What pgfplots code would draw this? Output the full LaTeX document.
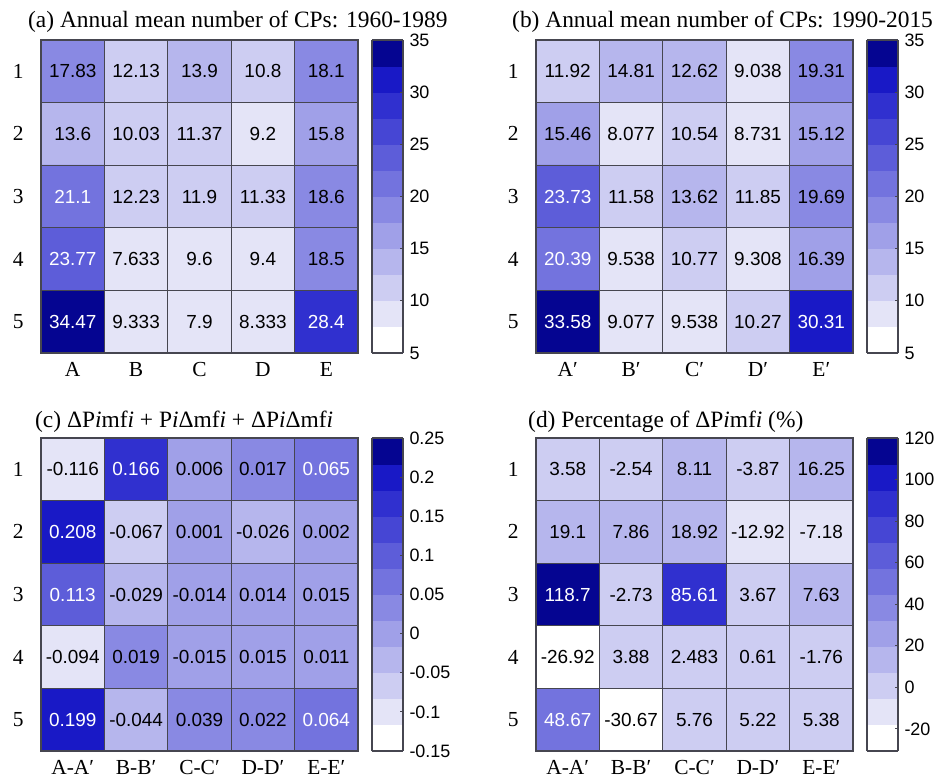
\documentclass[border=0pt]{standalone}
\usepackage{pgfplots}
\pgfplotsset{compat=1.18}
\usepackage{pgfplotstable}
\usepackage{fontspec}
\setmainfont{Liberation Serif}
\setsansfont{Liberation Sans}
\definecolor{gridgray}{RGB}{70,70,80}

\pgfplotsset{
  colormap={cpblue}{rgb255=(255,255,255) rgb255=(228,228,247) rgb255=(205,205,242)
    rgb255=(182,182,237) rgb255=(160,160,232) rgb255=(137,137,227) rgb255=(115,115,222)
    rgb255=(93,93,217) rgb255=(70,70,212) rgb255=(48,48,207) rgb255=(25,25,198) rgb255=(5,5,145)},
  colorbar shift/.style={xshift=14bp},
  heat/.style={
    scale only axis, width=317bp, height=313bp, anchor=south west,
    xmin=-0.5, xmax=4.5, ymin=0.5, ymax=5.5, y dir=reverse,
    xtick={0,...,4}, ytick={1,...,5}, yticklabels={1,2,3,4,5},
    major tick length=0pt,
    minor xtick={0.5,1.5,2.5,3.5}, minor ytick={1.5,2.5,3.5,4.5},
    minor tick length=0pt,
    minor grid style={draw=gridgray, line width=1.1bp},
    xminorgrids, yminorgrids,
    axis line style={draw=gridgray, line width=1.1bp},
    axis on top,
    colormap name=cpblue,
    colormap access=piecewise constant,
    ticklabel style={font=\fontsize{21.5}{21.5}\selectfont},
    yticklabel style={xshift=-14bp},
    xticklabel style={yshift=-6bp},
    /pgf/number format/assume math mode=true,
    colorbar,
  },
  cbar/.style={
    at={(parent axis.north east)}, anchor=north west,
    width=31bp, y dir=normal,
    xminorgrids=false, yminorgrids=false, minor xtick={}, minor ytick={},
    axis line style={draw=gridgray, line width=1.1bp},
    ytick pos=right, tick align=inside, major tick length=3bp,
    tick style={draw=gridgray, line width=0.8bp},
    yticklabel style={font=\sffamily\fontsize{18}{18}\selectfont, xshift=3bp},
    scaled y ticks=false,
  },
  valtext/.style={only marks, mark=none, point meta=explicit symbolic,
    nodes near coords={\pgfmathparse{(\pgfplotspointmeta)>(\thr)}%
      \ifdim\pgfmathresult pt>0.5pt\color{white}\fi\pgfplotspointmeta},
    nodes near coords style={anchor=center, inner sep=0pt,
      font=\sffamily\fontsize{19}{19}\selectfont}},
}
\tikzset{ptitle/.style={anchor=base west, inner sep=0pt, font=\fontsize{23.5}{25}\selectfont}}

\pgfplotstableread{
x y c
0 1 17.83
1 1 12.13
2 1 13.9
3 1 10.8
4 1 18.1
0 2 13.6
1 2 10.03
2 2 11.37
3 2 9.2
4 2 15.8
0 3 21.1
1 3 12.23
2 3 11.9
3 3 11.33
4 3 18.6
0 4 23.77
1 4 7.633
2 4 9.6
3 4 9.4
4 4 18.5
0 5 34.47
1 5 9.333
2 5 7.9
3 5 8.333
4 5 28.4
}\tabA

\pgfplotstableread{
x y c
0 1 11.92
1 1 14.81
2 1 12.62
3 1 9.038
4 1 19.31
0 2 15.46
1 2 8.077
2 2 10.54
3 2 8.731
4 2 15.12
0 3 23.73
1 3 11.58
2 3 13.62
3 3 11.85
4 3 19.69
0 4 20.39
1 4 9.538
2 4 10.77
3 4 9.308
4 4 16.39
0 5 33.58
1 5 9.077
2 5 9.538
3 5 10.27
4 5 30.31
}\tabB

\pgfplotstableread{
x y c
0 1 -0.116
1 1 0.166
2 1 0.006
3 1 0.017
4 1 0.065
0 2 0.208
1 2 -0.067
2 2 0.001
3 2 -0.026
4 2 0.002
0 3 0.113
1 3 -0.029
2 3 -0.014
3 3 0.014
4 3 0.015
0 4 -0.094
1 4 0.019
2 4 -0.015
3 4 0.015
4 4 0.011
0 5 0.199
1 5 -0.044
2 5 0.039
3 5 0.022
4 5 0.064
}\tabC

\pgfplotstableread{
x y c
0 1 3.58
1 1 -2.54
2 1 8.11
3 1 -3.87
4 1 16.25
0 2 19.1
1 2 7.86
2 2 18.92
3 2 -12.92
4 2 -7.18
0 3 118.7
1 3 -2.73
2 3 85.61
3 3 3.67
4 3 7.63
0 4 -26.92
1 4 3.88
2 4 2.483
3 4 0.61
4 4 -1.76
0 5 48.67
1 5 -30.67
2 5 5.76
3 5 5.22
4 5 5.38
}\tabD

\begin{document}
\begin{tikzpicture}
\useasboundingbox (0,0) rectangle (941bp,778bp);

% (a)
\def\thr{20}
\begin{axis}[heat, name=axA, at={(41bp,425bp)},
  xticklabels={A,B,C,D,E},
  point meta min=5, point meta max=35,
  colorbar style={cbar, ytick={5,10,...,35}, yticklabels={5,10,15,20,25,30,35}}]
\addplot[matrix plot*, mesh/cols=5, point meta=explicit] table[x=x,y=y,meta=c]{\tabA};
\addplot[valtext] table[x=x,y=y,meta=c]{\tabA};
\end{axis}

% (b)
\def\thr{20}
\begin{axis}[heat, name=axB, at={(536bp,425bp)},
  xticklabels={A′,B′,C′,D′,E′},
  point meta min=5, point meta max=35,
  colorbar style={cbar, ytick={5,10,...,35}, yticklabels={5,10,15,20,25,30,35}}]
\addplot[matrix plot*, mesh/cols=5, point meta=explicit] table[x=x,y=y,meta=c]{\tabB};
\addplot[valtext] table[x=x,y=y,meta=c]{\tabB};
\end{axis}

% (c)
\def\thr{0.05}
\begin{axis}[heat, name=axC, at={(41bp,27bp)},
  xticklabels={A-A′,B-B′,C-C′,D-D′,E-E′},
  point meta min=-0.15, point meta max=0.25,
  colorbar style={cbar, ytick={-0.15,-0.1,-0.05,0,0.05,0.1,0.15,0.2,0.25},
    yticklabels={-0.15,-0.1,-0.05,0,0.05,0.1,0.15,0.2,0.25}}]
\addplot[matrix plot*, mesh/cols=5, point meta=explicit] table[x=x,y=y,meta=c]{\tabC};
\addplot[valtext] table[x=x,y=y,meta=c]{\tabC};
\end{axis}

% (d)
\def\thr{44}
\begin{axis}[heat, name=axD, at={(536bp,27bp)},
  xticklabels={A-A′,B-B′,C-C′,D-D′,E-E′},
  point meta min=-30.67, point meta max=120,
  colorbar style={cbar, ytick={-20,0,...,120}, yticklabels={-20,0,20,40,60,80,100,120}}]
\addplot[matrix plot*, mesh/cols=5, point meta=explicit] table[x=x,y=y,meta=c]{\tabD};
\addplot[valtext] table[x=x,y=y,meta=c]{\tabD};
\end{axis}

\node[ptitle, xshift=-13bp, yshift=12bp] at (axA.north west) {(a) Annual mean number of CPs: 1960-1989};
\node[ptitle, xshift=-24bp, yshift=12bp] at (axB.north west) {(b) Annual mean number of CPs: 1990-2015};
\node[ptitle, xshift=-6bp, yshift=10bp] at (axC.north west) {(c) ΔP\textit{i}mf\textit{i} + P\textit{i}Δmf\textit{i} + ΔP\textit{i}Δmf\textit{i}};
\node[ptitle, xshift=-8bp, yshift=10bp] at (axD.north west) {(d) Percentage of ΔP\textit{i}mf\textit{i} (\%)};
\end{tikzpicture}
\end{document}
